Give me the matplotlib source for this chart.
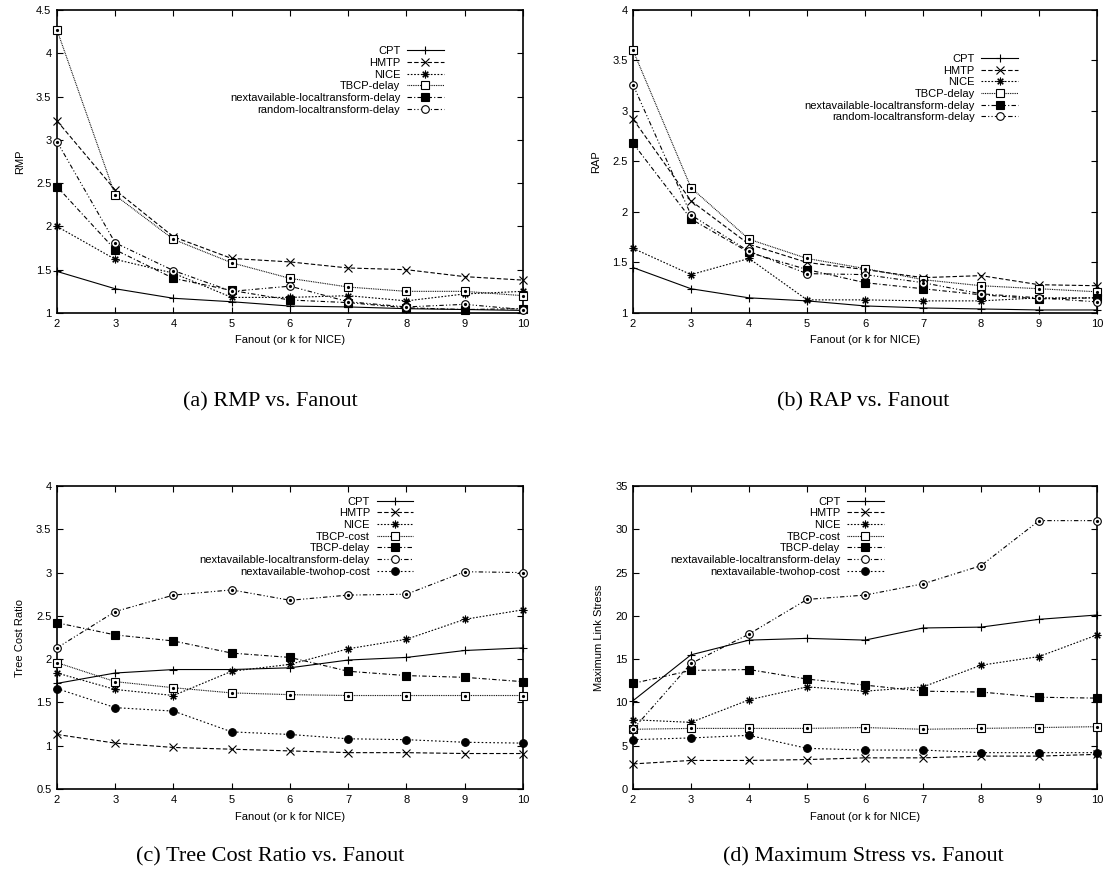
import matplotlib.pyplot as plt

plt.rcParams['font.family'] = ['Liberation Sans', 'DejaVu Sans']
plt.rcParams['font.size'] = 8

fanout = [2, 3, 4, 5, 6, 7, 8, 9, 10]

# (a) RMP vs. Fanout
rmp_cpt = [1.48, 1.28, 1.17, 1.13, 1.08, 1.07, 1.05, 1.04, 1.03]
rmp_hmtp = [3.22, 2.42, 1.88, 1.63, 1.59, 1.52, 1.50, 1.42, 1.38]
rmp_nice = [2.00, 1.62, 1.46, 1.18, 1.18, 1.20, 1.14, 1.22, 1.25]
rmp_tbcp_delay = [4.27, 2.36, 1.85, 1.58, 1.40, 1.30, 1.25, 1.25, 1.20]
rmp_nalt_delay = [2.46, 1.73, 1.40, 1.26, 1.15, 1.12, 1.06, 1.04, 1.05]
rmp_rlt_delay = [2.98, 1.81, 1.49, 1.25, 1.31, 1.13, 1.07, 1.10, 1.04]

# (b) RAP vs. Fanout
rap_cpt = [1.45, 1.24, 1.15, 1.12, 1.07, 1.05, 1.04, 1.03, 1.03]
rap_hmtp = [2.92, 2.11, 1.68, 1.50, 1.43, 1.35, 1.37, 1.28, 1.27]
rap_nice = [1.64, 1.38, 1.54, 1.13, 1.13, 1.12, 1.12, 1.15, 1.15]
rap_tbcp_delay = [3.60, 2.24, 1.73, 1.54, 1.44, 1.33, 1.27, 1.24, 1.21]
rap_nalt_delay = [2.68, 1.93, 1.60, 1.43, 1.30, 1.24, 1.18, 1.14, 1.15]
rap_rlt_delay = [3.26, 1.97, 1.61, 1.39, 1.38, 1.30, 1.19, 1.15, 1.11]

# (c) Tree Cost Ratio vs. Fanout
tcr_cpt = [1.72, 1.84, 1.88, 1.88, 1.90, 1.99, 2.02, 2.10, 2.13]
tcr_hmtp = [1.13, 1.03, 0.98, 0.96, 0.94, 0.92, 0.92, 0.91, 0.91]
tcr_nice = [1.84, 1.65, 1.58, 1.86, 1.94, 2.12, 2.23, 2.46, 2.57]
tcr_tbcp_cost = [1.96, 1.74, 1.67, 1.61, 1.59, 1.58, 1.58, 1.58, 1.58]
tcr_tbcp_delay = [2.42, 2.28, 2.21, 2.07, 2.02, 1.86, 1.81, 1.79, 1.74]
tcr_nalt_delay = [2.13, 2.55, 2.74, 2.80, 2.68, 2.74, 2.75, 3.01, 3.00]
tcr_twohop_cost = [1.66, 1.44, 1.40, 1.16, 1.13, 1.08, 1.07, 1.04, 1.03]

# (d) Maximum Stress vs. Fanout
mls_cpt = [10.2, 15.5, 17.2, 17.4, 17.2, 18.6, 18.7, 19.6, 20.1]
mls_hmtp = [2.9, 3.3, 3.3, 3.4, 3.6, 3.6, 3.8, 3.8, 4.0]
mls_nice = [8.0, 7.7, 10.3, 11.8, 11.3, 11.8, 14.3, 15.3, 17.8]
mls_tbcp_cost = [6.9, 7.0, 7.0, 7.0, 7.1, 6.9, 7.0, 7.1, 7.2]
mls_tbcp_delay = [12.2, 13.7, 13.8, 12.7, 12.0, 11.3, 11.2, 10.6, 10.5]
mls_nalt_delay = [6.9, 14.5, 17.9, 21.9, 22.4, 23.7, 25.8, 31.0, 31.0]
mls_twohop_cost = [5.7, 5.9, 6.2, 4.7, 4.5, 4.5, 4.2, 4.2, 4.2]

# gnuplot-ish line / point styles
styles = {
    'CPT': dict(ls='-', marker='+', mfc='black'),
    'HMTP': dict(ls=(0, (4, 2)), marker='x', mfc='black'),
    'NICE': dict(ls=(0, (1.5, 1.5)), marker=(8, 2, 0), mfc='black'),
    'open_sq': dict(ls=(0, (0.8, 0.8)), marker='s', mfc='white'),
    'fill_sq': dict(ls=(0, (4, 2, 1, 2)), marker='s', mfc='black'),
    'open_circ': dict(ls=(0, (4, 2, 1, 2, 1, 2)), marker='o', mfc='white'),
    'fill_circ': dict(ls=(0, (1.5, 2)), marker='o', mfc='black'),
}


def panel(rect, series, ylim, ystep, ylabel, leg_anchor):
    ax = fig.add_axes(rect)
    for label, vals, st in series:
        s = styles[st]
        ax.plot(fanout, vals, color='black', lw=0.8, ls=s['ls'],
                marker=s['marker'], ms=5.5, mfc=s['mfc'], mec='black',
                mew=0.8, label=label, clip_on=False, zorder=3)
        if s['mfc'] == 'white':
            # gnuplot open points carry a centre dot
            ax.plot(fanout, vals, ls='none', marker='o', ms=1.3,
                    color='black', clip_on=False, zorder=4)
    ax.set_xlim(2, 10)
    ax.set_ylim(*ylim)
    ax.set_xticks(fanout)
    yt = []
    v = ylim[0]
    while v <= ylim[1] + 1e-9:
        yt.append(v)
        v += ystep
    ax.set_yticks(yt)
    ax.set_yticklabels(['%g' % t for t in yt])
    ax.tick_params(direction='in', top=True, right=True, length=4,
                   width=0.8, labelsize=8, pad=4)
    for sp in ax.spines.values():
        sp.set_linewidth(1.2)
    ax.set_xlabel('Fanout (or k for NICE)', fontsize=8, labelpad=5)
    ax.set_ylabel(ylabel, fontsize=8, labelpad=8)
    ax.legend(loc='upper right', bbox_to_anchor=leg_anchor, frameon=False,
              markerfirst=False, handlelength=3.3, handletextpad=0.6,
              labelspacing=0.15, borderpad=0, borderaxespad=0, fontsize=8)
    return ax


fig = plt.figure(figsize=(11.04, 8.76), dpi=100)

panel([0.0516, 0.6427, 0.4221, 0.3459],
      [('CPT', rmp_cpt, 'CPT'), ('HMTP', rmp_hmtp, 'HMTP'),
       ('NICE', rmp_nice, 'NICE'), ('TBCP-delay', rmp_tbcp_delay, 'open_sq'),
       ('nextavailable-localtransform-delay', rmp_nalt_delay, 'fill_sq'),
       ('random-localtransform-delay', rmp_rlt_delay, 'open_circ')],
      (1, 4.5), 0.5, 'RMP', (0.83, 0.88))

panel([0.5734, 0.6427, 0.4203, 0.3459],
      [('CPT', rap_cpt, 'CPT'), ('HMTP', rap_hmtp, 'HMTP'),
       ('NICE', rap_nice, 'NICE'), ('TBCP-delay', rap_tbcp_delay, 'open_sq'),
       ('nextavailable-localtransform-delay', rap_nalt_delay, 'fill_sq'),
       ('random-localtransform-delay', rap_rlt_delay, 'open_circ')],
      (1, 4), 0.5, 'RAP', (0.83, 0.855))

panel([0.0516, 0.0993, 0.4221, 0.3459],
      [('CPT', tcr_cpt, 'CPT'), ('HMTP', tcr_hmtp, 'HMTP'),
       ('NICE', tcr_nice, 'NICE'), ('TBCP-cost', tcr_tbcp_cost, 'open_sq'),
       ('TBCP-delay', tcr_tbcp_delay, 'fill_sq'),
       ('nextavailable-localtransform-delay', tcr_nalt_delay, 'open_circ'),
       ('nextavailable-twohop-cost', tcr_twohop_cost, 'fill_circ')],
      (0.5, 4), 0.5, 'Tree Cost Ratio', (0.765, 0.965))

panel([0.5734, 0.0993, 0.4203, 0.3459],
      [('CPT', mls_cpt, 'CPT'), ('HMTP', mls_hmtp, 'HMTP'),
       ('NICE', mls_nice, 'NICE'), ('TBCP-cost', mls_tbcp_cost, 'open_sq'),
       ('TBCP-delay', mls_tbcp_delay, 'fill_sq'),
       ('nextavailable-localtransform-delay', mls_nalt_delay, 'open_circ'),
       ('nextavailable-twohop-cost', mls_twohop_cost, 'fill_circ')],
      (0, 35), 5, 'Maximum Link Stress', (0.54, 0.965))

cap = dict(ha='center', va='center', fontsize=16, family='Liberation Serif')
fig.text(0.245, 0.541, '(a) RMP vs. Fanout', **cap)
fig.text(0.782, 0.541, '(b) RAP vs. Fanout', **cap)
fig.text(0.245, 0.022, '(c) Tree Cost Ratio vs. Fanout', **cap)
fig.text(0.782, 0.022, '(d) Maximum Stress vs. Fanout', **cap)

fig.savefig('out.png', dpi=100)
